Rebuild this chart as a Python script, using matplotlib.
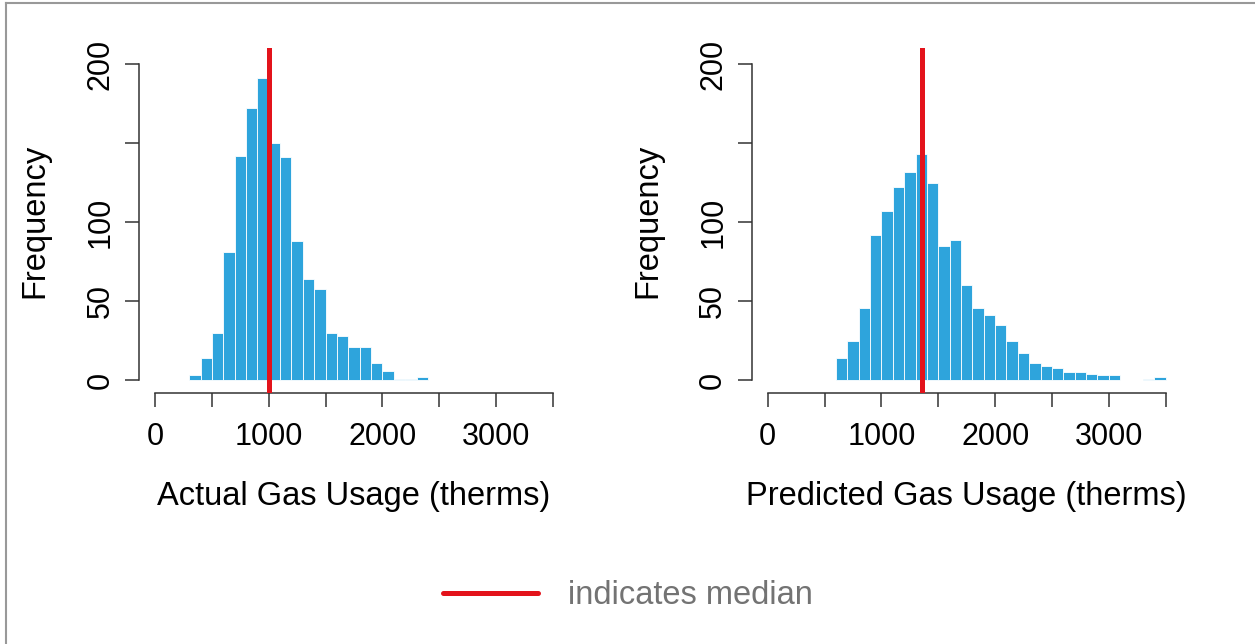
import numpy as np
import matplotlib
matplotlib.use("Agg")
import matplotlib.pyplot as plt
from matplotlib.lines import Line2D

plt.rcParams['font.family'] = ['Liberation Sans', 'DejaVu Sans']

# histogram counts, bins of 100 therms
bin_width = 100
actual_start = 300
actual_counts = [3, 14, 30, 81, 142, 172, 191, 150, 141, 88, 64, 58, 30, 28,
                 21, 21, 11, 6, 1, 1, 2]
predicted_start = 600
predicted_counts = [14, 25, 46, 92, 107, 122, 132, 143, 125, 85, 89, 60, 46, 41,
                    35, 25, 17, 11, 9, 8, 5, 5, 4, 3, 3, 0, 0, 1, 2]
actual_median = 1000
predicted_median = 1358

x_ticks = [0, 500, 1000, 1500, 2000, 2500, 3000, 3500]
x_labels = ['0', '', '1000', '', '2000', '', '3000', '']
y_ticks = [0, 50, 100, 150, 200]
y_labels = ['0', '50', '100', '', '200']

bar_color = '#2ea4dc'
red = '#e3131b'
W, H = 1255, 644


def draw_hist(ax, start, counts, median, xlabel):
    lefts = start + bin_width * np.arange(len(counts))
    ax.bar(lefts, counts, width=bin_width, align='edge', color=bar_color,
           edgecolor='white', linewidth=0.6)
    ax.axvline(median, color=red, linewidth=3.6, zorder=5)
    ax.set_xlim(-140, 3640)
    ax.set_ylim(-8.1, 210.1)
    for s in ['top', 'right']:
        ax.spines[s].set_visible(False)
    ax.spines['left'].set_bounds(0, 200)
    ax.spines['bottom'].set_bounds(0, 3500)
    for s in ['left', 'bottom']:
        ax.spines[s].set_color('#333333')
        ax.spines[s].set_linewidth(1.1)
    ax.set_xticks(x_ticks)
    ax.set_xticklabels(x_labels, fontsize=22)
    ax.set_yticks(y_ticks)
    ax.set_yticklabels(y_labels, fontsize=22, rotation=90, va='center')
    ax.tick_params(axis='x', length=10, width=1.1, color='#333333', pad=11)
    ax.tick_params(axis='y', length=10, width=1.1, color='#333333', pad=7)
    ax.set_xlabel(xlabel, fontsize=23.5, labelpad=21)
    ax.set_ylabel('Frequency', fontsize=23.5, labelpad=25)


fig = plt.figure(figsize=(W / 100, H / 100), dpi=100)
ax_h = 218.2 * 1.58 / H
bottom = (H - 393) / H
ax1 = fig.add_axes([139.1 / W, bottom, 429.8 / W, ax_h])
ax2 = fig.add_axes([751.8 / W, bottom, 429.8 / W, ax_h])

draw_hist(ax1, actual_start, actual_counts, actual_median, 'Actual Gas Usage (therms)')
draw_hist(ax2, predicted_start, predicted_counts, predicted_median, 'Predicted Gas Usage (therms)')

# legend under the panels
fig.add_artist(Line2D([443 / W, 538 / W], [1 - 593 / H, 1 - 593 / H],
                      color=red, linewidth=3.6, solid_capstyle='round'))
fig.text(568 / W, 1 - 595 / H, 'indicates median', fontsize=23.5,
         color='#737373', va='center', ha='left')

# partial grey frame
fig.add_artist(Line2D([6 / W, 6 / W], [0, 1 - 3 / H], color='#999999', linewidth=1.5))
fig.add_artist(Line2D([6 / W, 1], [1 - 3 / H, 1 - 3 / H], color='#999999', linewidth=1.5))

fig.savefig('out.png', dpi=100)
plt.close(fig)
